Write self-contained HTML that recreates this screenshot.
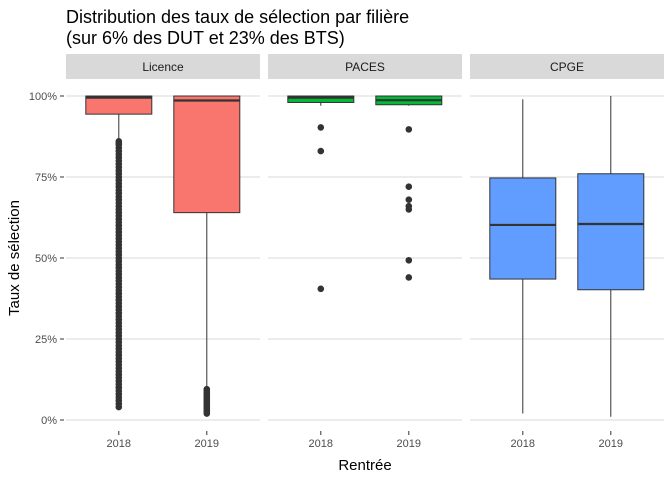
<!DOCTYPE html>
<html><head><meta charset="utf-8"><style>
body{margin:0;background:#fff;}
svg{font-family:"Liberation Sans",sans-serif;display:block}
</style></head><body>
<svg id="chart" width="672" height="480" viewBox="0 0 672 480" xmlns="http://www.w3.org/2000/svg">
<text x="66" y="23" font-size="18" fill="#000">Distribution des taux de sélection par filière</text>
<text x="66" y="44" font-size="18" fill="#000">(sur 6% des DUT et 23% des BTS)</text>
<text x="365" y="470" font-size="15" text-anchor="middle">Rentrée</text>
<text transform="translate(19,258) rotate(-90)" font-size="15" text-anchor="middle">Taux de sélection</text>
<g id="plot"></g>
</svg>
<script>
const facets = ["Licence","PACES","CPGE"];
const years = ["2018","2019"];
const yTicks = [0,25,50,75,100];
const colors = ["#F8766D","#00BA38","#619CFF"];
// [lowWhisker, q1, median, q3, highWhisker] per facet per year
const licenceStats = [[86,94.4,99.5,100,100],[10,64,98.6,100,100]];
const pacesStats = [[97,98,99.5,100,100],[97,97.3,98.7,100,100]];
const cpgeStats = [[2,43.5,60.2,74.7,99],[1,40.2,60.5,76,100]];
const licence2018Outliers = [86,85.5,85,84,83,82,81,80,79,78,77,76,75,74,73,72,71,70,69,68,67,66,65,64,63,62,61,60,59,58,57,56,55,54,53,52,51,50,49,48,47,46,45,44,43,42,41,40,39,38,37,36,35,34,33,32,31,30,29,28,27,26,25,24,23,22,21,20,19,18,17,16,15,14,13,12,11,10,9,8,7,6,5,4];
const licence2019Outliers = [9.5,9,8.5,8,7.5,7,6.5,6,5.5,5,4.5,4,3.5,3,2.5,2];
const paces2018Outliers = [90.3,83,40.5];
const paces2019Outliers = [89.7,72,68,66,65,49.3,44];
const cpge2018Outliers = [];
const cpge2019Outliers = [];

const stats = [licenceStats,pacesStats,cpgeStats];
const outliers = [[licence2018Outliers,licence2019Outliers],[paces2018Outliers,paces2019Outliers],[cpge2018Outliers,cpge2019Outliers]];
const NS="http://www.w3.org/2000/svg";
const plotG=document.getElementById('plot');
const panelX=[66,268,470], panelW=194;
const yScale=v=>420-v*3.24;
const xScale=(p,i)=>panelX[p]+(0.6+i)*88;
function mk(t,a){const e=document.createElementNS(NS,t);for(const k in a)e.setAttribute(k,a[k]);plotG.appendChild(e);return e;}
yTicks.forEach(t=>{
  const l=mk('text',{x:57,y:yScale(t)+4,'font-size':11,fill:'#4d4d4d','text-anchor':'end'});l.textContent=t+'%';
  
  
  mk('line',{x1:60,x2:64,y1:yScale(t),y2:yScale(t),stroke:'#333','stroke-width':1});
});
facets.forEach((f,p)=>{
  const s=mk('rect',{x:panelX[p],y:54,width:panelW,height:25,fill:'#d9d9d9'});
  
  
  const st=mk('text',{x:panelX[p]+panelW/2,y:71,'font-size':12,fill:'#1a1a1a','text-anchor':'middle'});st.textContent=f;
  
  
  yTicks.forEach(t=>{const gl=mk('line',{x1:panelX[p],x2:panelX[p]+panelW,y1:yScale(t),y2:yScale(t),stroke:'#d9d9d9','stroke-width':1});
    
    });
  years.forEach((yr,i)=>{
    const cx=xScale(p,i),[lo,q1,md,q3,hi]=stats[p][i];
    mk('line',{x1:cx,x2:cx,y1:yScale(hi),y2:yScale(q3),stroke:'#333','stroke-width':1});
    mk('line',{x1:cx,x2:cx,y1:yScale(q1),y2:yScale(lo),stroke:'#333','stroke-width':1});
    const b=mk('rect',{x:cx-33,y:yScale(q3),width:66,height:yScale(q1)-yScale(q3),fill:colors[p],stroke:'#333','stroke-width':1});
    
    
    mk('line',{x1:cx-33,x2:cx+33,y1:yScale(md),y2:yScale(md),stroke:'#333','stroke-width':2.2});
    outliers[p][i].forEach(v=>{const c=mk('circle',{cx:cx,cy:yScale(v),r:3.3,fill:'#333'});
      
      });
    const tl=mk('text',{x:cx,y:447,'font-size':11,fill:'#4d4d4d','text-anchor':'middle'});tl.textContent=yr;
    
    
    mk('line',{x1:cx,x2:cx,y1:431,y2:435,stroke:'#333','stroke-width':1});
  });
});
</script>
</body></html>
